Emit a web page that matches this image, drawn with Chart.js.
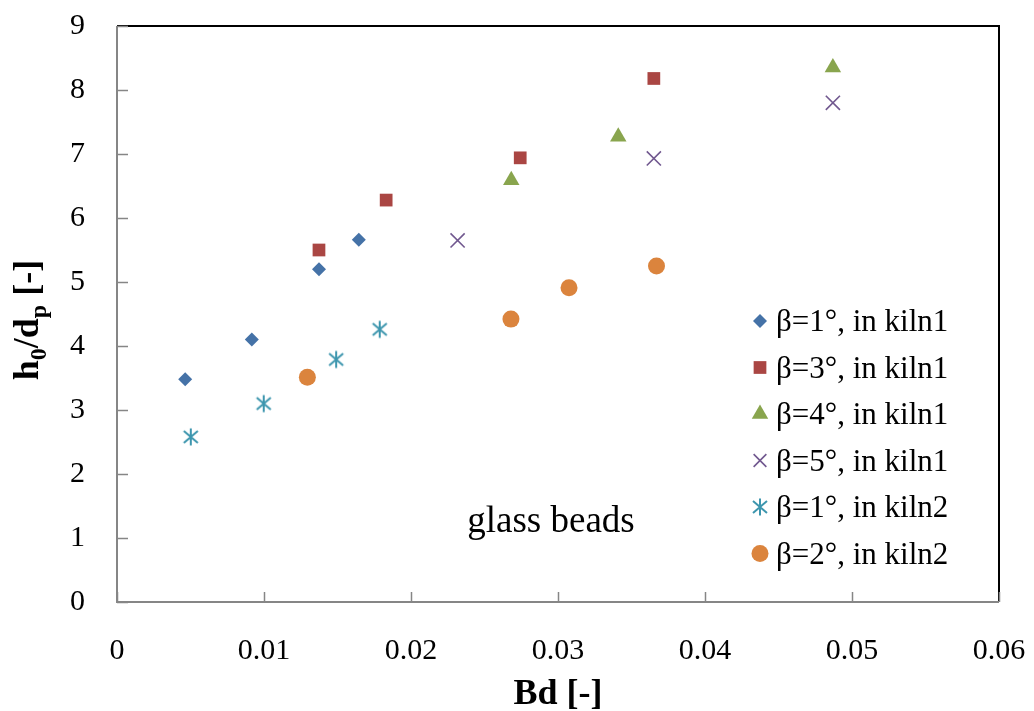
<!DOCTYPE html>
<html>
<head>
<meta charset="utf-8">
<script src="https://cdn.jsdelivr.net/npm/chart.js@4/dist/chart.umd.min.js"></script>
<style>
  html, body { margin: 0; padding: 0; background: #fff; }
  #wrap { width: 1034px; height: 711px; }
</style>
</head>
<body>
<div id="wrap"><canvas id="c" width="1034" height="711"></canvas></div>
<script>
// series (Bd, h0/dp)
const labels = ['β=1°, in kiln1', 'β=3°, in kiln1', 'β=4°, in kiln1',
                'β=5°, in kiln1', 'β=1°, in kiln2', 'β=2°, in kiln2'];
const bdK1b1 = [0.00464, 0.00917, 0.01374, 0.01645];
const hK1b1  = [3.48, 4.10, 5.20, 5.66];
const bdK1b3 = [0.01374, 0.01831, 0.02743, 0.03652];
const hK1b3  = [5.50, 6.28, 6.94, 8.18];
const bdK1b4 = [0.02682, 0.03410, 0.04870];
const hK1b4  = [6.59, 7.27, 8.35];
const bdK1b5 = [0.02317, 0.03652, 0.04870];
const hK1b5  = [5.65, 6.93, 7.80];
const bdK2b1 = [0.00502, 0.00998, 0.01491, 0.01787];
const hK2b1  = [2.58, 3.10, 3.79, 4.26];
const bdK2b2 = [0.01295, 0.02680, 0.03075, 0.03670];
const hK2b2  = [3.51, 4.42, 4.91, 5.25];
const xTicks = [0, 0.01, 0.02, 0.03, 0.04, 0.05, 0.06];
const yTicks = [0, 1, 2, 3, 4, 5, 6, 7, 8, 9];

const SERIF = '"Liberation Serif", "Times New Roman", serif';

// Excel-style asterisk (vertical bar + x), no horizontal stroke
function asterisk(color) {
  const cv = document.createElement('canvas');
  cv.width = 20; cv.height = 20;
  const g = cv.getContext('2d');
  g.strokeStyle = color; g.lineWidth = 2;
  g.beginPath();
  g.moveTo(10, 1.5); g.lineTo(10, 18.5);
  g.moveTo(3, 4); g.lineTo(17, 16);
  g.moveTo(17, 4); g.lineTo(3, 16);
  g.stroke();
  return cv;
}

const zip = (xs, ys) => xs.map((x, i) => ({ x, y: ys[i] }));

const series = [
  { data: zip(bdK1b1, hK1b1), color: '#4572A7', style: 'rectRot',  r: 7 },
  { data: zip(bdK1b3, hK1b3), color: '#AA4643', style: 'rect',     r: 9 },
  { data: zip(bdK1b4, hK1b4), color: '#89A54E', style: 'triangle', r: 9.5 },
  { data: zip(bdK1b5, hK1b5), color: '#71588F', style: 'crossRot', r: 10 },
  { data: zip(bdK2b1, hK2b1), color: '#3D96AE', style: asterisk('#3D96AE'), r: 10 },
  { data: zip(bdK2b2, hK2b2), color: '#DB843D', style: 'circle',   r: 8.5 },
];

const datasets = series.map((s, i) => ({
  label: labels[i],
  data: s.data,
  pointStyle: s.style,
  pointRadius: s.r,
  pointHoverRadius: s.r,
  backgroundColor: s.color,
  borderColor: s.color,
  borderWidth: s.style === 'crossRot' ? 1.6 : 0,
  showLine: false,
}));

// axes frame, inside tick marks, titles, legend and note
const decor = {
  id: 'decor',
  afterDraw(chart) {
    const { ctx, chartArea: a, scales: { x, y } } = chart;
    ctx.save();
    // top + right black frame
    ctx.strokeStyle = '#000'; ctx.lineWidth = 2;
    ctx.beginPath();
    ctx.moveTo(a.left, a.top); ctx.lineTo(a.right, a.top); ctx.lineTo(a.right, a.bottom);
    ctx.stroke();
    // gray axes
    ctx.strokeStyle = '#868686'; ctx.lineWidth = 2;
    ctx.beginPath();
    ctx.moveTo(a.left, a.top); ctx.lineTo(a.left, a.bottom); ctx.lineTo(a.right, a.bottom);
    ctx.stroke();
    ctx.lineWidth = 1.5;
    ctx.beginPath();
    yTicks.forEach(v => {
      const py = Math.round(y.getPixelForValue(v)) + 0.5;
      ctx.moveTo(a.left, py); ctx.lineTo(a.left + 11, py);
    });
    xTicks.forEach(v => {
      const px = Math.round(x.getPixelForValue(v)) + 0.5;
      ctx.moveTo(px, a.bottom); ctx.lineTo(px, a.bottom - 10);
    });
    ctx.stroke();

    ctx.fillStyle = '#000';
    // x title
    ctx.font = 'bold 36px ' + SERIF;
    ctx.textAlign = 'center'; ctx.textBaseline = 'alphabetic';
    ctx.fillText('Bd [-]', (a.left + a.right) / 2, 704);

    // y title with subscripts
    const parts = [['h', false], ['0', true], ['/d', false], ['p', true], [' [-]', false]];
    const big = 'bold 36px ' + SERIF, small = 'bold 24px ' + SERIF;
    let total = 0;
    parts.forEach(([t, sub]) => { ctx.font = sub ? small : big; total += ctx.measureText(t).width; });
    ctx.translate(38, 320);
    ctx.rotate(-Math.PI / 2);
    ctx.textAlign = 'left';
    let cx = -total / 2;
    parts.forEach(([t, sub]) => {
      ctx.font = sub ? small : big;
      ctx.fillText(t, cx, sub ? 8 : 0);
      cx += ctx.measureText(t).width;
    });
    ctx.setTransform(1, 0, 0, 1, 0, 0);

    // note
    ctx.font = '37px ' + SERIF;
    ctx.textAlign = 'center';
    ctx.fillText('glass beads', 551, 532);

    // legend
    ctx.textAlign = 'left'; ctx.textBaseline = 'middle';
    chart.data.datasets.forEach((ds, i) => {
      const ly = 321 + i * 46.5;
      ctx.fillStyle = ds.backgroundColor; ctx.strokeStyle = ds.borderColor;
      ctx.lineWidth = ds.borderWidth || 0;
      const r = ds.pointStyle === 'crossRot' ? 9 : ds.pointRadius;
      Chart.helpers.drawPoint(ctx, {
        pointStyle: ds.pointStyle, radius: r, rotation: 0, borderWidth: ds.borderWidth
      }, 760, ly);
      ctx.fillStyle = '#000';
      ctx.font = '31px ' + SERIF;
      ctx.fillText(ds.label, 776, ly + 2);
    });
    ctx.restore();
  }
};

new Chart(document.getElementById('c'), {
  type: 'scatter',
  data: { datasets },
  plugins: [decor],
  options: {
    responsive: false,
    animation: false,
    layout: { padding: { left: 0, top: 26, right: 35, bottom: 0 } },
    plugins: { legend: { display: false }, tooltip: { enabled: false } },
    scales: {
      x: {
        type: 'linear', min: 0, max: 0.06,
        afterBuildTicks: s => { s.ticks = xTicks.map(v => ({ value: v })); },
        afterFit: s => { s.height = 109; s.paddingLeft = 0; s.paddingRight = 0; },
        grid: { display: false, drawTicks: false },
        border: { display: false },
        ticks: {
          padding: 31, color: '#000', maxRotation: 0,
          font: { family: SERIF, size: 30 },
          callback: v => String(+v.toFixed(2))
        }
      },
      y: {
        type: 'linear', min: 0, max: 9,
        afterBuildTicks: s => { s.ticks = yTicks.map(v => ({ value: v })); },
        afterFit: s => { s.width = 117; s.paddingTop = 0; s.paddingBottom = 0; },
        grid: { display: false, drawTicks: false },
        border: { display: false },
        ticks: {
          padding: 32, color: '#000',
          font: { family: SERIF, size: 30 }
        }
      }
    }
  }
});
</script>
</body>
</html>
